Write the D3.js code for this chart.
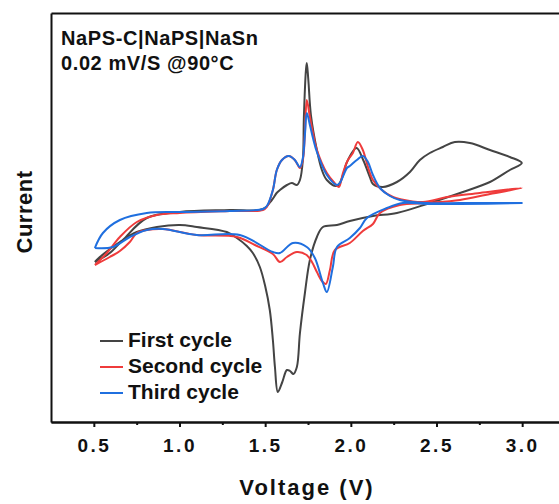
<!DOCTYPE html>
<html>
<head>
<meta charset="utf-8">
<script src="https://cdn.jsdelivr.net/npm/d3@7"></script>
<style>
  body { margin: 0; background: #fff; }
  text { font-family: "Liberation Sans", Arial, sans-serif; font-weight: bold; fill: #111; }
</style>
</head>
<body>
<svg id="chart"></svg>
<script>
// CV data (current in arbitrary units)
// each cycle: anodic sweep 0.5 -> 3.0 V, then cathodic sweep back to 0.5 V
const firstV = [0.506, 0.593, 0.669, 0.809, 1.002, 1.294, 1.487, 1.539, 1.567, 1.586, 1.627, 1.656, 1.685, 1.703, 1.720, 1.726, 1.738, 1.743, 1.752, 1.767, 1.802, 1.831, 1.860, 1.919, 1.955, 1.975, 2.033, 2.072, 2.111, 2.129, 2.187, 2.269, 2.345, 2.403, 2.461, 2.537, 2.607, 2.695, 2.812, 2.928, 2.998,
  2.928, 2.812, 2.654, 2.461, 2.269, 2.129, 1.994, 1.919, 1.837, 1.802, 1.761, 1.732, 1.703, 1.685, 1.665, 1.645, 1.627, 1.600, 1.574, 1.557, 1.545, 1.527, 1.500, 1.469, 1.428, 1.393, 1.335, 1.276, 1.101, 1.002, 0.868, 0.751, 0.652, 0.535, 0.506];
const firstI = [-0.50, -0.41, -0.28, -0.06, 0.00, 0.02, 0.03, 0.12, 0.19, 0.22, 0.27, 0.29, 0.27, 0.32, 0.52, 0.95, 1.42, 1.49, 1.32, 0.97, 0.62, 0.42, 0.32, 0.26, 0.37, 0.49, 0.64, 0.52, 0.35, 0.28, 0.25, 0.30, 0.40, 0.52, 0.59, 0.65, 0.70, 0.69, 0.62, 0.55, 0.49,
  0.42, 0.30, 0.20, 0.09, -0.01, -0.04, -0.09, -0.13, -0.15, -0.25, -0.48, -0.81, -1.21, -1.55, -1.62, -1.59, -1.58, -1.70, -1.80, -1.55, -1.28, -0.98, -0.74, -0.55, -0.41, -0.34, -0.26, -0.20, -0.15, -0.13, -0.15, -0.20, -0.30, -0.45, -0.50];

const secondV = [0.506, 0.576, 0.652, 0.751, 0.868, 1.002, 1.294, 1.487, 1.510, 1.545, 1.568, 1.598, 1.638, 1.673, 1.703, 1.720, 1.732, 1.743, 1.761, 1.779, 1.802, 1.860, 1.905, 1.930, 1.954, 1.983, 2.012, 2.041, 2.070, 2.100, 2.129, 2.181, 2.246, 2.286, 2.421, 2.561, 2.753, 2.998,
  2.812, 2.637, 2.444, 2.286, 2.170, 2.129, 2.070, 1.994, 1.907, 1.878, 1.854, 1.831, 1.802, 1.773, 1.742, 1.685, 1.627, 1.586, 1.545, 1.440, 1.335, 1.101, 0.903, 0.809, 0.751, 0.710, 0.652, 0.593, 0.506];
const secondI = [-0.53, -0.41, -0.25, -0.10, -0.03, -0.01, 0.01, 0.02, 0.05, 0.22, 0.42, 0.52, 0.56, 0.52, 0.44, 0.52, 0.79, 1.12, 0.95, 0.79, 0.62, 0.39, 0.29, 0.25, 0.39, 0.52, 0.59, 0.70, 0.62, 0.45, 0.32, 0.22, 0.15, 0.13, 0.10, 0.15, 0.19, 0.24,
  0.18, 0.12, 0.09, 0.07, -0.01, -0.12, -0.19, -0.31, -0.38, -0.58, -0.72, -0.69, -0.60, -0.50, -0.43, -0.40, -0.45, -0.50, -0.42, -0.33, -0.25, -0.23, -0.17, -0.18, -0.21, -0.30, -0.39, -0.45, -0.53];

const thirdV = [0.506, 0.553, 0.652, 0.809, 1.002, 1.294, 1.487, 1.510, 1.545, 1.568, 1.598, 1.638, 1.673, 1.703, 1.720, 1.732, 1.743, 1.761, 1.779, 1.802, 1.860, 1.919, 1.936, 1.977, 1.994, 2.035, 2.070, 2.100, 2.129, 2.170, 2.228, 2.286, 2.444, 2.637, 2.998,
  2.637, 2.444, 2.304, 2.211, 2.094, 2.053, 1.994, 1.919, 1.895, 1.860, 1.837, 1.790, 1.743, 1.662, 1.586, 1.545, 1.352, 1.101, 0.903, 0.809, 0.710, 0.611, 0.506];
const thirdI = [-0.36, -0.21, -0.08, -0.01, 0.00, 0.01, 0.03, 0.06, 0.22, 0.42, 0.52, 0.56, 0.52, 0.45, 0.54, 0.77, 0.99, 0.87, 0.74, 0.60, 0.37, 0.27, 0.29, 0.44, 0.46, 0.52, 0.56, 0.50, 0.37, 0.24, 0.16, 0.12, 0.09, 0.09, 0.09,
  0.08, 0.08, 0.09, 0.04, -0.06, -0.16, -0.26, -0.35, -0.55, -0.80, -0.71, -0.46, -0.35, -0.31, -0.41, -0.40, -0.23, -0.23, -0.17, -0.18, -0.25, -0.35, -0.36];

const seriesNames = ['First cycle', 'Second cycle', 'Third cycle'];
const seriesColors = ['#444444', '#ef3b3b', '#1f6fdf'];
const xTicks = [0.5, 1.0, 1.5, 2.0, 2.5, 3.0];
const xMinorTicks = [0.75, 1.25, 1.75, 2.25, 2.75, 3.25];
const noteLines = ['NaPS-C|NaPS|NaSn', '0.02 mV/S @90\u00b0C'];

const width = 559;
const height = 504;
const margin = { top: 13, right: -6, bottom: 82, left: 51 };

const svg = d3.select('#chart')
  .attr('width', width)
  .attr('height', height);

const x = d3.scaleLinear()
  .domain([0.25, 3.25])
  .range([margin.left, width - margin.right]);

const y = d3.scaleLinear()
  .domain([-2.10, 1.99])
  .range([height - margin.bottom, margin.top]);

const cycles = [
  firstV.map((v, i) => ({ v: v, c: firstI[i] })),
  secondV.map((v, i) => ({ v: v, c: secondI[i] })),
  thirdV.map((v, i) => ({ v: v, c: thirdI[i] }))
];

const line = d3.line()
  .x(d => x(d.v))
  .y(d => y(d.c))
  .curve(d3.curveCatmullRom.alpha(0.5));

svg.append('g')
  .selectAll('path')
  .data(cycles)
  .enter()
  .append('path')
  .attr('d', line)
  .attr('fill', 'none')
  .attr('stroke', (d, i) => seriesColors[i])
  .attr('stroke-width', 2)
  .attr('stroke-linejoin', 'round');

// axes
const xAxis = svg.append('g')
  .attr('transform', `translate(0,${height - margin.bottom})`)
  .call(d3.axisBottom(x).tickValues(xTicks).tickFormat(d3.format('.1f'))
    .tickSize(5).tickSizeOuter(0).tickPadding(12));
xAxis.selectAll('text')
  .style('font-size', '19px')
  .style('letter-spacing', '2.5px')
  .attr('fill', '#111');

svg.append('g')
  .attr('transform', `translate(0,${height - margin.bottom})`)
  .call(d3.axisBottom(x).tickValues(xMinorTicks).tickFormat('').tickSize(3).tickSizeOuter(0));

svg.append('g')
  .attr('transform', `translate(${margin.left},0)`)
  .call(d3.axisLeft(y).tickValues([]).tickSizeOuter(0));

svg.append('g')
  .attr('transform', `translate(0,${margin.top})`)
  .call(d3.axisTop(x).tickValues([]).tickSizeOuter(0));

svg.selectAll('.domain').attr('stroke', '#111').attr('stroke-width', 2);
svg.selectAll('.tick line').attr('stroke', '#111').attr('stroke-width', 2);

svg.append('text')
  .attr('x', 307)
  .attr('y', 495)
  .attr('text-anchor', 'middle')
  .style('font-size', '22px')
  .style('letter-spacing', '2px')
  .text('Voltage (V)');

svg.append('text')
  .attr('transform', 'translate(32,212) rotate(-90)')
  .attr('text-anchor', 'middle')
  .style('font-size', '22px')
  .style('letter-spacing', '0.5px')
  .text('Current');

// note in the corner
svg.append('g')
  .selectAll('text')
  .data(noteLines)
  .enter()
  .append('text')
  .attr('x', 61)
  .attr('y', (d, i) => 45 + i * 25)
  .style('font-size', '20px')
  .style('letter-spacing', '0.6px')
  .text(d => d);

// legend
const legend = svg.append('g')
  .selectAll('g')
  .data(seriesNames)
  .enter()
  .append('g')
  .attr('transform', (d, i) => `translate(100,${341 + i * 26})`);

legend.append('line')
  .attr('x1', 0)
  .attr('x2', 23)
  .attr('stroke', (d, i) => seriesColors[i])
  .attr('stroke-width', 2);

legend.append('text')
  .attr('x', 28)
  .attr('y', 6)
  .style('font-size', '21px')
  .text(d => d);
</script>
</body>
</html>
